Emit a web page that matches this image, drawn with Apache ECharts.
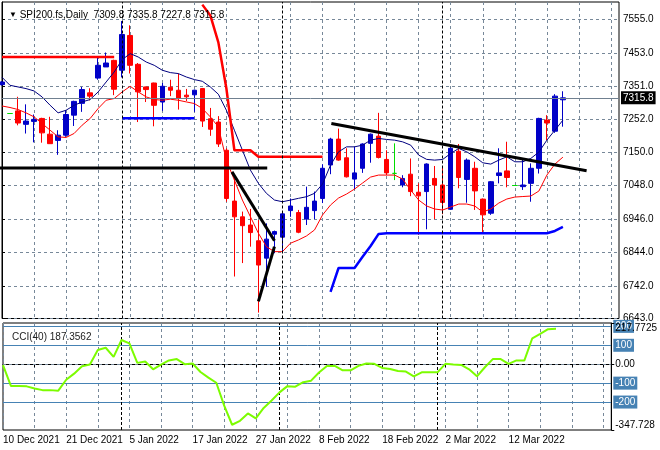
<!DOCTYPE html>
<html><head><meta charset="utf-8">
<script src="https://cdn.jsdelivr.net/npm/echarts@6/dist/echarts.min.js"></script>
<style>html,body{margin:0;padding:0;background:#fff}#c{width:660px;height:450px}</style>
</head><body><div id="c"></div>
<script>
const dates = ['10 Dec 2021','13 Dec 2021','14 Dec 2021','15 Dec 2021','16 Dec 2021','17 Dec 2021','19 Dec 2021','20 Dec 2021',
 '21 Dec 2021','22 Dec 2021','23 Dec 2021','24 Dec 2021','29 Dec 2021','30 Dec 2021','31 Dec 2021','4 Jan 2022',
 '5 Jan 2022','6 Jan 2022','7 Jan 2022','10 Jan 2022','11 Jan 2022','12 Jan 2022','13 Jan 2022','14 Jan 2022',
 '17 Jan 2022','18 Jan 2022','19 Jan 2022','20 Jan 2022','21 Jan 2022','24 Jan 2022','25 Jan 2022','26 Jan 2022',
 '27 Jan 2022','28 Jan 2022','31 Jan 2022','1 Feb 2022','2 Feb 2022','3 Feb 2022','4 Feb 2022','7 Feb 2022',
 '8 Feb 2022','9 Feb 2022','10 Feb 2022','11 Feb 2022','14 Feb 2022','15 Feb 2022','16 Feb 2022','17 Feb 2022',
 '18 Feb 2022','21 Feb 2022','22 Feb 2022','23 Feb 2022','24 Feb 2022','25 Feb 2022','28 Feb 2022','1 Mar 2022',
 '2 Mar 2022','3 Mar 2022','4 Mar 2022','7 Mar 2022','8 Mar 2022','9 Mar 2022','10 Mar 2022','11 Mar 2022',
 '12 Mar 2022','14 Mar 2022','15 Mar 2022','16 Mar 2022','17 Mar 2022','18 Mar 2022','21 Mar 2022',
 '22 Mar 2022','23 Mar 2022','24 Mar 2022','25 Mar 2022','28 Mar 2022','29 Mar 2022','30 Mar 2022'];

const opens  = [7356,7268,7276,7235,7244,7253,7205,7186,7202,7263,7299,7331,7376,7410,7430,7400,7506,7418,7349,7361,
 7303,7348,7339,7324,7325,7344,7252,7242,7156,7001,6953,6928,6880,6827,6900,6891,6972,6966,6946,6972,
 7009,7111,7190,7133,7068,7101,7177,7199,7128,7085.5,7050,7083,7028,7030,7070,7050,6976,7153,7067,7101,
 7007,6964,7079,7093,7048.5,7045,7055,7101,7248,7214,7309.8];
const highs  = [7367,7268,7319,7296,7265,7255,7258,7217,7278,7307,7349,7345,7442,7454,7432,7550,7537,7422,7350,7362,
 7361,7371,7390,7343,7341,7346,7285,7260,7162,7070,6969,6977,6943,6933,6911,6967,7009,6974,7045,7030,
 7113,7194,7222,7162,7166,7177,7207,7270,7156,7177,7080,7131,7055,7116,7108,7106,7166,7175,7131,7121,
 7009,7062,7162,7182,7048.5,7130,7116,7255,7263,7327,7335.8];
const lows   = [7353,7268,7232,7207,7180,7179,7175,7142,7197,7230,7273,7308,7371,7410,7324,7378,7390,7242,7303,7229,
 7276,7321,7280,7306,7273,7227,7200,7166,6999,6771,6812,6862,6661,6740,6842,6847,6953,6903,6928,6946,
 6995,7083,7124,7073,7037,7087,7118,7131,7080,7065,7043,7016,6898,6915,6946,6961,6974,7040,6996,6974,
 6903,6959,7055,7043,7048.5,7035,6999,7085,7187,7209,7227.8];
const closes = [7364,7268,7239,7245,7250,7209,7176,7202,7265,7305,7341,7321,7415,7422,7342,7509,7415,7334,7341,7293,
 7351,7339,7314,7319,7339,7245,7220,7175,7009,6953,6926,6905,6806,6885,6908,6962,6986,6906,6982,7001,
 7101,7190,7126,7075,7087,7175,7205,7134,7087,7085.5,7070,7030,7017,7114,7050,6997,7162,7073,7126,7032,
 6959,7060,7087,7073,7048.5,7050,7101,7253,7239,7321,7315.8];

const upperAvg = [7378.5,7354,7349,7344,7336.8,7318.6,7293.3,7270,7278,7293,7303.3,7310.6,7333.8,7364.2,7394.6,7432.4,7450.6,7440.3,7425,7415,
 7400,7392.8,7389.8,7379.4,7371.5,7366.3,7349,7326.8,7278,7217.2,7156.4,7095.5,7055,7024.6,7004.2,6999,7004,7009.4,7014.3,7024.6,
 7052.9,7110.7,7151.2,7166.4,7166.4,7171.6,7186.8,7192,7188.9,7186.8,7181.6,7171.6,7141.2,7128.1,7125.9,7128,7146.3,7161.5,7151.2,7136,
 7117.7,7113.8,7125.9,7136,7120.8,7120.8,7131.1,7150.3,7186.8,7217.2,7247.7];
const lowerAvg = [7291,7286.3,7280.2,7270,7257.7,7237.6,7217.2,7196.8,7195,7207.2,7232.4,7252.8,7283.3,7308.5,7313.7,7333.8,7351,7333.8,7318.6,7310.6,
 7308.5,7311.6,7308.5,7303.3,7298.5,7283.3,7257.7,7227.3,7125.9,7065.1,7004.2,6953.4,6902.9,6862,6846.9,6846.9,6872.5,6882.5,6894.7,6912.9,
 6958.6,6989,7010.3,7022.5,7037.7,7056,7074.2,7080.3,7080.3,7080.3,7068.1,7034.6,7004.2,6986,6976.8,6973.8,6982.9,6992,6992,6986,
 6967.7,6976.8,6995.1,7007.3,7013.3,7014.9,7016.4,7031.6,7080.3,7113.8,7135];
const _ = null;
const redStop = [7440.3,7440.3,7440.3,7440.3,7440.3,7440.3,7440.3,7440.3,7440.3,7440.3,7440.3,7440.3,7440.3,7440.3,7440.3,_,_,_,_,_,
 _,_,_,_,_,7600,7567,7485,7345,7156,7156,7156,7136,7136,7136,7136,7136,7136,7136,7136,
 7136,_,_,_,_,_,_,_,_,_,_,_,_,_,_,_,_,_,_,_,
 _,_,_,_,_,_,_,_,_,_,_];
const blueStop = [_,_,_,_,_,_,_,_,_,_,_,_,_,_,_,7253.7,7253.7,7253.7,7253.7,7253.7,
 7253.7,7253.7,7253.7,7253.7,7253.7,_,_,_,_,_,_,_,_,_,_,_,_,_,_,_,
 _,6724,6797,6797,6797,6831,6864,6901,6903,6903,6903,6903,6903,6903,6903,6903,6903,6903,6903,6903,
 6903,6903,6903,6903,6903,6903,6903,6903,6903,6910,6922];

const cci = [-5,-115,-115,-117,-128,-137,-137,-140,-82,-50,-11,-2,75,87,39,128,110,7,14,-27,
 -2,20,27,0,4,-41,-71,-98,-219,-320,-299,-260,-286,-231,-192,-149,-116,-119,-95,-87,
 -44,-9,-9,-32,-32,-9,4,2,-20,-25,-36,-39,-64,-43,-43,-43,2,-2,-4,-27,
 -64,-16,27,27,2,20,20,137,160,185,187.3562];

const priceTicks = [6643,6742,6844,6946,7048,7150,7252,7351,7453,7555];
const cciAxisTicks = [-347.728, 0, 217.7725];
const cciLevels = [200, 100, -100, -200];
const monthStarts = ['4 Jan 2022','1 Feb 2022','1 Mar 2022'];
const trendLines = [
  [[-1, 7101.6], [33.1, 7101.6]],
  [[28.7, 7090], [34, 6880]],
  [[32, 6695], [34, 6862]],
  [[41.1, 7237.6], [72.96, 7093.4]]
];

const n = opens.length;
const last = n - 1;
const candle = opens.map((o, i) => [o, closes[i], lows[i], highs[i]]);
const FONT = 'Liberation Sans';
const gridColor = '#778899';
const dash = [3, 3];

function xAxisCat(gi, showLabel) {
  return {
    type: 'category', gridIndex: gi, data: dates, boundaryGap: false,
    axisLine: {show: showLabel, lineStyle: {color: '#000'}},
    axisTick: {show: showLabel, interval: 3, length: 3, lineStyle: {color: '#000'}},
    axisLabel: {show: showLabel, interval: 7, align: 'left', margin: 5, fontSize: 10, fontFamily: FONT, color: '#000',
      formatter: (v, i) => (i < n ? v : '')},
    splitLine: {show: true, interval: 3, lineStyle: {color: gridColor, type: dash, width: 1}}
  };
}

const chart = echarts.init(document.getElementById('c'));
const option = {
  animation: false,
  backgroundColor: '#fff',
  textStyle: {fontFamily: FONT},
  title: [
    {text: '{t|▼} SPI200.fs,Daily  ' + [opens[last], highs[last], lows[last], closes[last]].map(v => v.toFixed(1)).join(' '),
     left: 4, top: 5, textStyle: {fontSize: 10, fontWeight: 'normal', color: '#000', fontFamily: FONT, rich: {t: {fontSize: 8, color: '#000'}}}},
    {text: 'CCI(40) ' + cci[last], left: 7, top: 327, textStyle: {fontSize: 10, fontWeight: 'normal', color: '#222', fontFamily: FONT}}
  ],
  grid: [
    {left: 2, right: 41, top: 2, bottom: 131.5, show: true, borderColor: '#000', borderWidth: 1},
    {left: 2, right: 41, top: 323, bottom: 20, show: true, borderColor: '#000', borderWidth: 1}
  ],
  xAxis: [
    xAxisCat(0, false),
    xAxisCat(1, true),
    {type: 'value', gridIndex: 0, min: 0, max: dates.length - 1, show: false}
  ],
  yAxis: [
    {type: 'value', gridIndex: 0, position: 'right', min: 6643, max: 7608, scale: true,
     axisLine: {show: true, lineStyle: {color: '#000'}},
     axisTick: {show: true, length: 3, customValues: priceTicks, lineStyle: {color: '#000'}},
     axisLabel: {customValues: priceTicks, formatter: v => v.toFixed(1), fontSize: 10, fontFamily: FONT, color: '#000', margin: 4},
     splitLine: {show: true, lineStyle: {color: gridColor, type: dash, width: 1}}},
    {type: 'value', gridIndex: 1, position: 'right', min: cciAxisTicks[0], max: cciAxisTicks[2], z: 10,
     axisLine: {show: true, lineStyle: {color: '#000'}},
     axisTick: {show: true, length: 3, customValues: cciAxisTicks, lineStyle: {color: '#000'}},
     axisLabel: {customValues: cciAxisTicks, formatter: v => (v === 0 ? '0.00' : String(v)), fontSize: 10, fontFamily: FONT, color: '#000', margin: 4,
       verticalAlignMinLabel: 'bottom', verticalAlignMaxLabel: 'top'},
     splitLine: {show: false}}
  ],
  series: [
    {type: 'candlestick', xAxisIndex: 0, yAxisIndex: 0, data: candle, barWidth: 5,
     itemStyle: {color: '#0000c8', color0: '#ff0000', borderColor: '#0000c8', borderColor0: '#ff0000', borderColorDoji: '#00dd00', borderWidth: 1},
     markLine: {symbol: ['none', 'none'], silent: true, animation: false,
       data: [
         {yAxis: closes[last], lineStyle: {color: '#708090', type: 'solid', width: 1},
          label: {show: true, position: 'end', formatter: closes[last].toFixed(1), color: '#fff', backgroundColor: '#000', padding: [2, 2, 1, 2], fontSize: 10, fontFamily: FONT, distance: 2}},
         ...monthStarts.map(d => ({xAxis: d, lineStyle: {color: '#000', type: [3, 2], width: 1}, label: {show: false}}))
       ]}},
    {type: 'line', xAxisIndex: 0, yAxisIndex: 0, data: upperAvg, symbol: 'none', lineStyle: {color: '#000080', width: 1}},
    {type: 'line', xAxisIndex: 0, yAxisIndex: 0, data: lowerAvg, symbol: 'none', lineStyle: {color: '#ff0000', width: 1}},
    {type: 'line', xAxisIndex: 0, yAxisIndex: 0, data: redStop, symbol: 'none', lineStyle: {color: '#ff0000', width: 2.5}},
    {type: 'line', xAxisIndex: 0, yAxisIndex: 0, data: blueStop, symbol: 'none', lineStyle: {color: '#0000ff', width: 2.5}},
    ...trendLines.map(t => ({type: 'line', xAxisIndex: 2, yAxisIndex: 0, data: t, symbol: 'none', lineStyle: {color: '#000', width: 3}})),
    {type: 'line', xAxisIndex: 1, yAxisIndex: 1, data: cci, symbol: 'none', lineStyle: {color: '#7cfc00', width: 2},
     markLine: {symbol: ['none', 'none'], silent: true, animation: false, z: 1,
       data: [
         ...cciLevels.map(l => ({yAxis: l, lineStyle: {color: '#4682b4', type: 'solid', width: 1},
            label: {show: true, position: 'end', formatter: String(l), color: '#fff', backgroundColor: '#4682b4', padding: [2, 2, 1, 2], fontSize: 10, fontFamily: FONT, distance: 2}})),
         {yAxis: 0, lineStyle: {color: gridColor, type: dash, width: 1}, label: {show: false}},
         ...monthStarts.map(d => ({xAxis: d, lineStyle: {color: '#000', type: [3, 2], width: 1}, label: {show: false}}))
       ]}}
  ]
};
chart.setOption(option);
</script>
</body></html>
